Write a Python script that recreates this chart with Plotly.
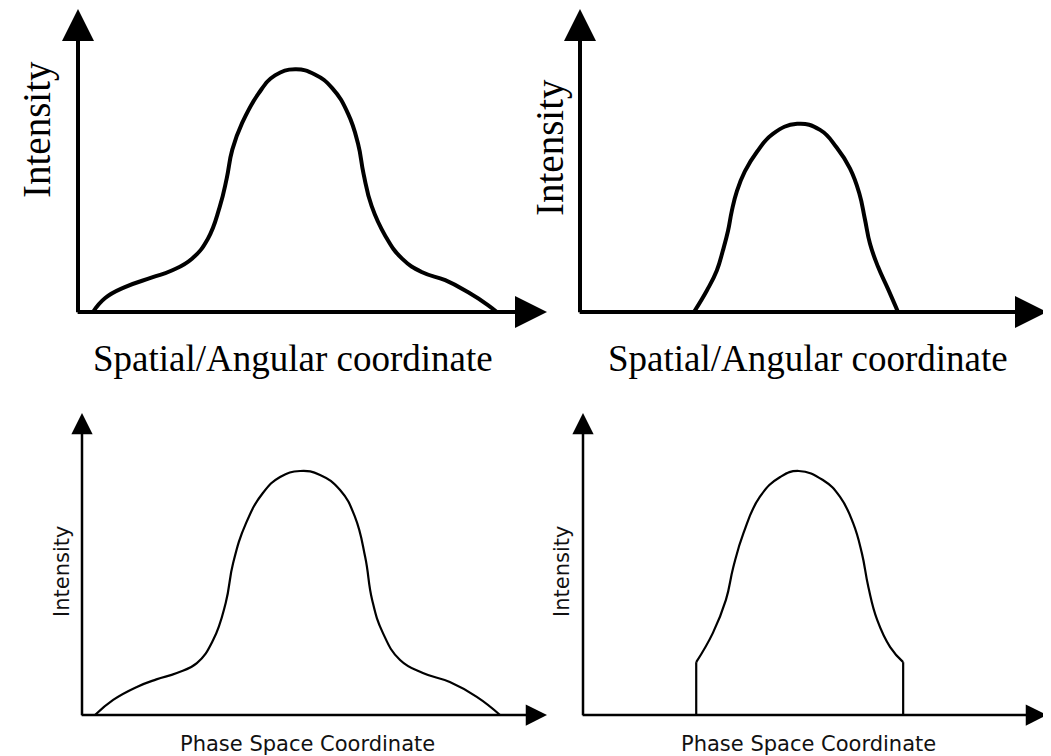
import plotly.graph_objects as go

# the page body has an 8px margin, so the figure is drawn 8px in from the corner
OFF = 8
W, H = 1051 - OFF, 756 - OFF

# full beam profile (top-left)
tl_x = [3.2, 5.8, 10.0, 15.8, 20.0, 24.3, 27.7, 30.2, 31.7, 32.9, 35.0, 38.4, 42.0, 46.3,
        50.5, 54.2, 57.6, 59.7, 60.9, 62.6, 65.5, 69.1, 73.4, 78.3, 83.2, 87.4, 89.3]
tl_y = [0.0, 4.6, 8.2, 11.4, 13.7, 17.6, 24.2, 34.6, 44.0, 53.6, 62.4, 71.9, 78.1, 80.1,
        78.4, 73.9, 65.4, 55.6, 45.5, 35.0, 25.2, 17.6, 13.1, 10.5, 6.5, 2.3, 0.0]

# collimated / smoothed profile (top-right)
tr_x = [24.4, 27.2, 29.3, 30.6, 31.7, 32.5, 33.6, 35.3, 37.9, 41.3, 46.5,
        51.4, 55.0, 57.8, 59.8, 61.0, 62.1, 63.8, 65.9, 68.1]
tr_y = [0.0, 7.2, 13.7, 20.3, 26.8, 33.3, 39.9, 46.4, 52.9, 58.8, 62.1,
        60.1, 54.2, 47.4, 39.2, 30.7, 22.5, 15.0, 7.8, 0.0]

# phase space profile (bottom-left)
bl_x = [2.8, 6.7, 11.8, 16.0, 20.4, 24.7, 28.2, 30.9, 32.5, 35.3, 38.9, 42.6, 46.9,
        51.2, 55.5, 58.7, 60.9, 62.4, 64.7, 68.4, 73.3, 79.1, 84.9, 89.9]
bl_y = [0.0, 5.0, 9.3, 11.8, 13.9, 17.2, 24.8, 37.1, 50.3, 63.6, 73.5, 78.8, 80.8,
        79.5, 74.5, 65.6, 52.3, 38.1, 27.2, 18.2, 13.9, 10.9, 6.0, 0.0]

# truncated phase space profile (bottom-right)
br_x = [24.4, 28.0, 30.8, 32.4, 34.6, 38.1, 42.5, 46.5,
        51.7, 55.4, 58.2, 60.1, 61.5, 63.4, 66.2, 69.0]
br_y = [17.5, 27.2, 38.1, 49.0, 60.3, 72.2, 78.8, 80.8,
        77.8, 72.2, 63.6, 53.6, 42.4, 31.5, 22.5, 17.5]


def xdom(p0, p1):
    per = (p1 - p0) / 100
    return [(p0 - OFF - 3 * per) / W, (p1 - OFF) / W]


def ydom(p0, p1):
    per = (p0 - p1) / 100
    return [1 - (p0 - OFF + 3 * per) / H, 1 - (p1 - OFF) / H]


panels = [
    # (axis suffix, x px origin/tip, y px origin/tip, thick)
    ("", (78, 547), (312, 9), True),
    ("2", (580, 1047), (312, 9), True),
    ("3", (82, 547), (715, 413), False),
    ("4", (583, 1047), (715, 413), False),
]

fig = go.Figure()


def add_line(x, y, n, width, shape="spline"):
    fig.add_trace(go.Scatter(x=x, y=y, mode="lines", xaxis="x" + n, yaxis="y" + n,
                             line=dict(color="black", width=width, shape=shape, smoothing=1.3),
                             hoverinfo="skip", showlegend=False))


add_line(tl_x, tl_y, "", 4)
add_line(tr_x, tr_y, "2", 4)
add_line(bl_x, bl_y, "3", 2.2)
add_line(br_x, br_y, "4", 2.2)
add_line([br_x[0], br_x[0]], [0, br_y[0]], "4", 2.2, "linear")
add_line([br_x[-1], br_x[-1]], [0, br_y[-1]], "4", 2.2, "linear")

annotations = []
for n, xp, yp, thick in panels:
    fig.layout["xaxis" + n] = dict(domain=xdom(*xp), range=[-3, 100], visible=False,
                                   anchor="y" + n, fixedrange=True)
    fig.layout["yaxis" + n] = dict(domain=ydom(*yp), range=[-3, 100], visible=False,
                                   anchor="x" + n, fixedrange=True)
    w = 4 if thick else 2.5
    size = 1.6 if thick else 1.7
    # axis arrows
    for (x, y, ax, ay) in [(100, 0, -0.4, 0), (0, 100, 0, -0.6)]:
        annotations.append(dict(x=x, y=y, ax=ax, ay=ay, xref="x" + n, yref="y" + n,
                                axref="x" + n, ayref="y" + n, text="", showarrow=True,
                                arrowhead=2, arrowwidth=w, arrowsize=size, arrowcolor="black"))

serif = dict(family="Liberation Serif", size=37, color="black")
sans = dict(family="DejaVu Sans", size=21, color="#111111")


def label(text, px, py, font, angle=0):
    annotations.append(dict(text=text, x=(px - OFF) / W, y=1 - (py - OFF) / H,
                            xref="paper", yref="paper", showarrow=False,
                            xanchor="center", yanchor="middle", textangle=angle, font=font))


label("Spatial/Angular coordinate", 293, 358, serif)
label("Spatial/Angular coordinate", 808, 358, serif)
label("Intensity", 37, 130, dict(serif, size=39), -90)
label("Intensity", 550, 148, dict(serif, size=39), -90)
label("Intensity", 62, 572, sans, -90)
label("Intensity", 562, 572, sans, -90)
# bottom labels sit on the lower edge of the page
for px in [307, 808]:
    annotations.append(dict(text="Phase Space Coordinate", x=(px - OFF) / W, y=0,
                            xref="paper", yref="paper", showarrow=False, yshift=-2,
                            xanchor="center", yanchor="bottom", font=sans))

fig.update_layout(width=W, height=H, margin=dict(l=0, r=0, t=0, b=0),
                  paper_bgcolor="white", plot_bgcolor="white",
                  annotations=annotations, showlegend=False)

fig.write_html("out.html")
